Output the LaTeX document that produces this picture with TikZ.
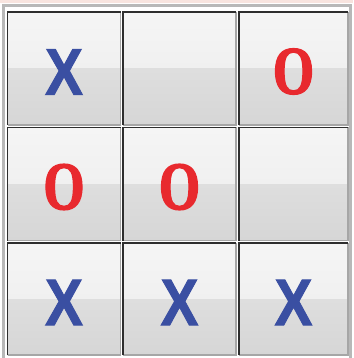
\documentclass[tikz,border=0pt]{standalone}
\usepackage{fontspec}
\usepackage{graphicx}
\newfontfamily\xfont{Liberation Sans}[BoldFeatures={FakeBold=1.6}]
\newfontfamily\ofont{Liberation Serif}[BoldFeatures={FakeBold=2.2}]
\definecolor{xblue}{HTML}{3A4FA2}
\definecolor{ored}{HTML}{E8292E}
\definecolor{pinkstrip}{HTML}{F8E4DF}
\definecolor{frame}{HTML}{B8B8B8}
\definecolor{topa}{HTML}{F5F5F5}
\definecolor{topb}{HTML}{EBEBEB}
\definecolor{bota}{HTML}{DEDEDE}
\definecolor{botb}{HTML}{D6D6D6}
\definecolor{darkedge}{HTML}{2E2E2E}
\definecolor{lightedge}{HTML}{A6A6A6}
\tikzset{
  cellbox/.style={draw=none, inner sep=0pt, outer sep=0pt, anchor=north west,
    path picture={
      \fill[top color=topa,bottom color=topb] (path picture bounding box.north west) rectangle (path picture bounding box.east);
      \fill[top color=bota,bottom color=botb] (path picture bounding box.west) rectangle (path picture bounding box.south east);
    }},
  darkline/.style={draw=darkedge, line width=1.5pt},
  lightline/.style={draw=lightedge, line width=1.4pt},
  xmark/.style={text=xblue, inner sep=0pt, font=\xfont\bfseries\fontsize{66}{66}\selectfont},
  omark/.style={text=ored, inner sep=0pt, font=\ofont\bfseries\fontsize{68}{68}\selectfont},
}
\newcommand{\markX}{\scalebox{0.86}[1]{X}}
\newcommand{\markO}{\scalebox{0.78}[1]{O}}
\begin{document}
\begin{tikzpicture}[x=1pt,y=-1pt]
\useasboundingbox (0,0) rectangle (353,358);
\fill[white] (0,0) rectangle (353,358);
\fill[pinkstrip] (0,0) rectangle (353,3);
\draw[frame, line width=3pt] (3.5,6) rectangle (350.5,362);
% cells
\foreach \r/\y/\h in {1/12/113, 2/127.5/113, 3/243/112}{
  \foreach \c/\x/\w in {1/7.5/113, 2/123/113, 3/239/109}{
    \node[cellbox, minimum width=\w pt, minimum height=\h pt] (c\r\c) at (\x,\y) {};
    \draw[lightline] (c\r\c.north east) -- (c\r\c.south east) -- (c\r\c.south west);
    \draw[darkline] (c\r\c.south west) -- (c\r\c.north west) -- (c\r\c.north east);
  }
}
% marks
\node[xmark, yshift=-3.5pt] (m11) at (c11.center) {\markX};
\node[omark, yshift=-3pt] (m13) at (c13.center) {\markO};
\node[omark, yshift=-3pt] (m21) at (c21.center) {\markO};
\node[omark, yshift=-3pt] (m22) at (c22.center) {\markO};
\node[xmark, yshift=-3.5pt] (m31) at (c31.center) {\markX};
\node[xmark, yshift=-3.5pt] (m32) at (c32.center) {\markX};
\node[xmark, yshift=-3.5pt] (m33) at (c33.center) {\markX};
\end{tikzpicture}
\end{document}
